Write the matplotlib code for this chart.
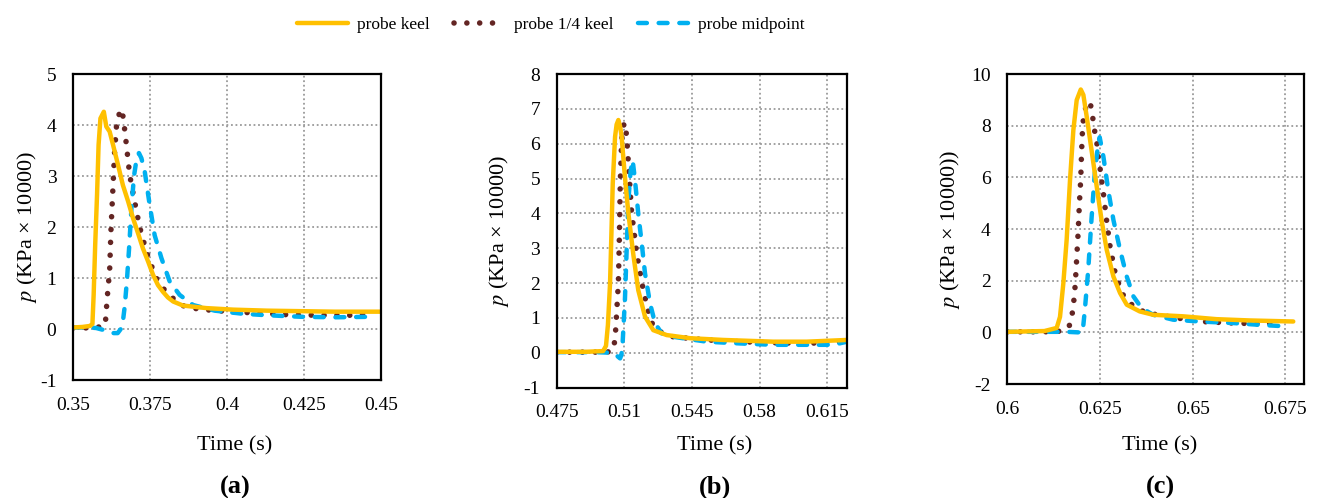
import matplotlib

matplotlib.use("Agg")
import matplotlib.pyplot as plt  # noqa: E402
from matplotlib.lines import Line2D  # noqa: E402

plt.rcParams["font.family"] = ["Liberation Serif", "DejaVu Serif"]
plt.rcParams["mathtext.fontset"] = "stix"
plt.rcParams["axes.unicode_minus"] = False

KEEL_COLOR = "#FFC000"
QUARTER_COLOR = "#632523"
MID_COLOR = "#00B0F0"

# ---- panel (a) ----
t_keel_a = [0.350, 0.353, 0.3555, 0.3563, 0.3567, 0.3572, 0.3578, 0.3583, 0.3589, 0.3600,
            0.3608, 0.3619, 0.3630, 0.3646, 0.3662, 0.3679, 0.3695, 0.3711, 0.3727, 0.3744,
            0.3760, 0.3776, 0.3792, 0.3808, 0.3825, 0.3857, 0.3933, 0.4020, 0.4130, 0.4240,
            0.4350, 0.4500]
p_keel_a = [0.03, 0.04, 0.06, 0.10, 0.67, 1.65, 2.63, 3.61, 4.13, 4.26,
            3.97, 3.87, 3.61, 3.22, 2.82, 2.50, 2.17, 1.88, 1.58, 1.32,
            1.06, 0.86, 0.73, 0.62, 0.54, 0.46, 0.41, 0.38, 0.36, 0.35,
            0.34, 0.34]

t_quarter_a = [0.350, 0.3535, 0.3570, 0.3600, 0.3605, 0.3611, 0.3619, 0.3623, 0.3629, 0.3635,
               0.3641, 0.3650, 0.3657, 0.3663, 0.3670, 0.3684, 0.3700, 0.3716, 0.3738, 0.3768,
               0.3792, 0.3825, 0.3860, 0.3900, 0.3960, 0.4020, 0.4100, 0.4200, 0.4300, 0.4400,
               0.4480]
p_quarter_a = [0.02, 0.02, 0.03, 0.05, 0.11, 0.61, 1.16, 1.91, 2.69, 3.48,
               3.97, 4.22, 4.31, 4.15, 3.79, 3.02, 2.50, 2.01, 1.52, 1.02,
               0.80, 0.60, 0.45, 0.40, 0.36, 0.34, 0.31, 0.28, 0.27, 0.27,
               0.31]

t_mid_a = [0.350, 0.355, 0.3575, 0.3600, 0.3630, 0.3645, 0.3655, 0.3662, 0.3668, 0.3675,
           0.3682, 0.3690, 0.3698, 0.3706, 0.3714, 0.3722, 0.3733, 0.3749, 0.3765, 0.3787,
           0.3814, 0.3846, 0.3890, 0.3960, 0.4050, 0.4130, 0.4240, 0.4350, 0.4475]
p_mid_a = [0.03, 0.03, 0.02, -0.02, -0.08, -0.08, 0.00, 0.15, 0.45, 0.95,
           1.58, 2.40, 3.00, 3.32, 3.45, 3.35, 3.08, 2.43, 1.84, 1.39,
           0.93, 0.67, 0.47, 0.36, 0.30, 0.27, 0.24, 0.23, 0.24]

# ---- panel (b) ----
t_keel_b = [0.475, 0.490, 0.4990, 0.5005, 0.5015, 0.5026, 0.5033, 0.5040, 0.5052, 0.5060,
            0.5069, 0.5078, 0.5086, 0.5103, 0.5121, 0.5147, 0.5172, 0.5207, 0.5250, 0.5319,
            0.5440, 0.5612, 0.5871, 0.6043, 0.6253]
p_keel_b = [0.03, 0.03, 0.05, 0.20, 0.80, 1.99, 3.40, 4.86, 6.20, 6.55,
            6.68, 6.50, 6.20, 5.05, 4.00, 2.80, 1.80, 1.04, 0.65, 0.51,
            0.42, 0.37, 0.32, 0.32, 0.37]

t_quarter_b = [0.475, 0.495, 0.5030, 0.5040, 0.5052, 0.5060, 0.5069, 0.5072, 0.5076, 0.5079,
               0.5086, 0.5093, 0.5100, 0.5106, 0.5112, 0.5121, 0.5138, 0.5147, 0.5164, 0.5178,
               0.5198, 0.5224, 0.5250, 0.5284, 0.5353, 0.5526, 0.5698, 0.5871, 0.6043, 0.6233]
p_quarter_b = [0.02, 0.02, 0.03, 0.08, 0.37, 1.13, 1.99, 2.71, 3.86, 4.91,
               6.10, 6.45, 6.60, 6.45, 6.22, 5.43, 4.00, 3.62, 2.85, 2.42,
               1.80, 1.19, 0.75, 0.61, 0.46, 0.37, 0.32, 0.29, 0.27, 0.32]

t_mid_b = [0.475, 0.495, 0.5040, 0.5065, 0.5078, 0.5085, 0.5091, 0.5103, 0.5112, 0.5121,
           0.5133, 0.5143, 0.5155, 0.5172, 0.5190, 0.5207, 0.5233, 0.5259, 0.5293, 0.5353,
           0.5526, 0.5698, 0.5871, 0.6043, 0.6181, 0.6253]
p_mid_b = [0.02, 0.02, 0.00, -0.10, -0.16, -0.05, 0.27, 1.52, 2.95, 4.38,
           5.24, 5.53, 4.96, 4.00, 3.14, 2.28, 1.42, 0.85, 0.56, 0.46,
           0.32, 0.27, 0.23, 0.23, 0.23, 0.32]

# ---- panel (c) ----
t_keel_c = [0.600, 0.610, 0.6133, 0.6142, 0.6151, 0.6160, 0.6169, 0.6178, 0.6187, 0.6198,
            0.6205, 0.6214, 0.6227, 0.6241, 0.6254, 0.6268, 0.6286, 0.6304, 0.6322, 0.6357,
            0.6393, 0.6474, 0.6564, 0.6654, 0.6771]
p_keel_c = [0.02, 0.05, 0.17, 0.60, 1.90, 3.60, 5.90, 7.83, 8.99, 9.40,
            9.19, 8.35, 7.06, 5.64, 4.35, 3.19, 2.16, 1.52, 1.07, 0.81,
            0.68, 0.62, 0.51, 0.46, 0.42]

t_quarter_c = [0.600, 0.610, 0.6150, 0.6169, 0.6176, 0.6180, 0.6183, 0.6186, 0.6191, 0.6194,
               0.6198, 0.6200, 0.6203, 0.6207, 0.6215, 0.6223, 0.6230, 0.6234, 0.6241, 0.6245,
               0.6250, 0.6259, 0.6268, 0.6277, 0.6290, 0.6308, 0.6340, 0.6375, 0.6430, 0.6519,
               0.6609, 0.6680, 0.6735]
p_quarter_c = [0.02, 0.02, 0.05, 0.29, 0.81, 1.32, 1.84, 2.60, 3.90, 4.90,
               5.96, 6.93, 7.96, 8.50, 8.85, 8.93, 8.35, 7.90, 7.38, 6.80,
               6.35, 5.38, 4.29, 3.32, 2.35, 1.52, 1.00, 0.75, 0.62, 0.42,
               0.36, 0.33, 0.36]

t_mid_c = [0.600, 0.610, 0.6160, 0.6190, 0.6203, 0.6209, 0.6218, 0.6227, 0.6236, 0.6245,
           0.6249, 0.6259, 0.6272, 0.6286, 0.6304, 0.6322, 0.6340, 0.6362, 0.6393, 0.6447,
           0.6519, 0.6609, 0.6680, 0.6753]
p_mid_c = [0.02, 0.02, 0.02, 0.00, 0.00, 0.87, 2.40, 4.40, 6.20, 7.30,
           7.55, 6.80, 5.51, 4.35, 3.19, 2.16, 1.39, 0.94, 0.68, 0.49,
           0.42, 0.36, 0.29, 0.23]

panels = [
    dict(tag="(a)", rect=[0.0554, 0.2369, 0.2337, 0.6145],
         xlim=(0.35, 0.45), xticks=[0.35, 0.375, 0.4, 0.425, 0.45],
         xlabels=["0.35", "0.375", "0.4", "0.425", "0.45"],
         ylim=(-1, 5), yticks=range(-1, 6),
         ylabel=r"$p$ (KPa × 10000)", ylab_x=-0.11, label_x=235,
         series=[(t_keel_a, p_keel_a), (t_quarter_a, p_quarter_a), (t_mid_a, p_mid_a)]),
    dict(tag="(b)", rect=[0.4224, 0.2215, 0.2203, 0.6299],
         xlim=(0.475, 0.6253), xticks=[0.475, 0.51, 0.545, 0.58, 0.615],
         xlabels=["0.475", "0.51", "0.545", "0.58", "0.615"],
         ylim=(-1, 8), yticks=range(-1, 9),
         ylabel=r"$p$ (KPa × 10000)", ylab_x=-0.156, label_x=715,
         series=[(t_keel_b, p_keel_b), (t_quarter_b, p_quarter_b), (t_mid_b, p_mid_b)]),
    dict(tag="(c)", rect=[0.7643, 0.2289, 0.2251, 0.6225],
         xlim=(0.6, 0.68), xticks=[0.6, 0.625, 0.65, 0.675],
         xlabels=["0.6", "0.625", "0.65", "0.675"],
         ylim=(-2, 10), yticks=range(-2, 11, 2),
         ylabel=r"$p$ (KPa × 10000))", ylab_x=-0.152, label_x=1160,
         series=[(t_keel_c, p_keel_c), (t_quarter_c, p_quarter_c), (t_mid_c, p_mid_c)]),
]

styles = [
    dict(color=KEEL_COLOR, lw=3.2, ls="-", solid_capstyle="round"),
    dict(color=QUARTER_COLOR, lw=4.0, ls=(0, (0.01, 2.3)), dash_capstyle="round"),
    dict(color=MID_COLOR, lw=3.2, ls=(0, (2.0, 2.65)), dash_capstyle="round"),
]
draw_order = [1, 2, 0]  # keel line on top

W, H = 1318, 498
fig = plt.figure(figsize=(W / 100, H / 100), dpi=100)

for pan in panels:
    ax = fig.add_axes(pan["rect"])
    for k in draw_order:
        t, p = pan["series"][k]
        ax.plot(t, p, zorder=3 + (k == 0), **styles[k])
    ax.set_xlim(*pan["xlim"])
    ax.set_ylim(*pan["ylim"])
    ax.set_xticks(pan["xticks"])
    ax.set_xticklabels(pan["xlabels"])
    ax.set_yticks(list(pan["yticks"]))
    ax.tick_params(length=0, labelsize=14)
    ax.tick_params(axis="x", pad=12)
    ax.tick_params(axis="y", pad=12)
    ax.grid(True, color="#9a9a9a", linestyle=(0, (1, 1.5)), linewidth=1.3)
    for s in ax.spines.values():
        s.set_linewidth(1.6)
        s.set_color("black")
        s.set_zorder(6)
    ax.set_ylabel(pan["ylabel"], fontsize=16)
    ax.yaxis.set_label_coords(pan["ylab_x"], 0.5)
    fig.text(pan["label_x"] / W, 1 - 446 / H, "Time (s)", ha="center", va="center", fontsize=16)
    fig.text(pan["label_x"] / W, 1 - 487 / H, pan["tag"], ha="center", va="center",
             fontsize=19, fontweight="bold")

handles = [Line2D([], [], **styles[k]) for k in range(3)]
fig.legend(handles, ["probe keel", "probe 1/4 keel", "probe midpoint"],
           loc="center", bbox_to_anchor=(551 / W, 1 - 25 / H), ncol=3, frameon=False,
           fontsize=12.5, handlelength=2.9, handletextpad=0.55, columnspacing=1.4)

fig.savefig("out.png", dpi=100)
